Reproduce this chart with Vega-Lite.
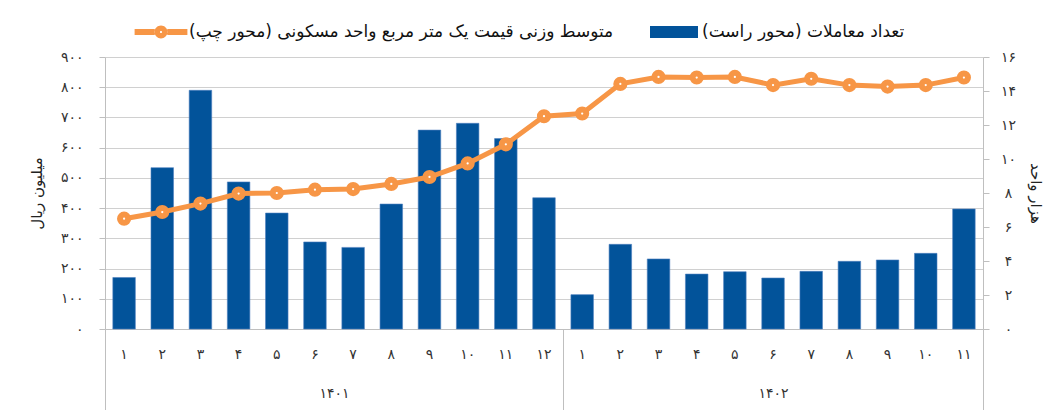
{
  "$schema": "https://vega.github.io/schema/vega-lite/v6.json",
  "width": 878,
  "height": 272,
  "autosize": "none",
  "padding": {"left": 105, "top": 57, "right": 65, "bottom": 81},
  "background": "white",
  "config": {
    "font": "DejaVu Sans",
    "view": {"stroke": null},
    "axis": {"labelColor": "#333333", "titleColor": "#222222", "titleFontWeight": "normal", "labelFont": "DejaVu Sans", "titleFont": "DejaVu Sans"},
    "legend": {"labelFontSize": 17, "labelColor": "#111111", "labelOffset": 4, "labelLimit": 700, "padding": 0, "symbolSize": 2304, "symbolStrokeWidth": 0}
  },
  "data": {
    "values": [
      {"period": "1401-01", "price": 365, "count": 3.03},
      {"period": "1401-02", "price": 387, "count": 9.49},
      {"period": "1401-03", "price": 415, "count": 14.04},
      {"period": "1401-04", "price": 448, "count": 8.65},
      {"period": "1401-05", "price": 450, "count": 6.82},
      {"period": "1401-06", "price": 461, "count": 5.12},
      {"period": "1401-07", "price": 463, "count": 4.8},
      {"period": "1401-08", "price": 480, "count": 7.35},
      {"period": "1401-09", "price": 503, "count": 11.7},
      {"period": "1401-10", "price": 548, "count": 12.1},
      {"period": "1401-11", "price": 611, "count": 11.2},
      {"period": "1401-12", "price": 704, "count": 7.72},
      {"period": "1402-01", "price": 713, "count": 2.02},
      {"period": "1402-02", "price": 811, "count": 4.98},
      {"period": "1402-03", "price": 834, "count": 4.12},
      {"period": "1402-04", "price": 832, "count": 3.23},
      {"period": "1402-05", "price": 834, "count": 3.37},
      {"period": "1402-06", "price": 807, "count": 3.0},
      {"period": "1402-07", "price": 828, "count": 3.39},
      {"period": "1402-08", "price": 807, "count": 3.98},
      {"period": "1402-09", "price": 802, "count": 4.06},
      {"period": "1402-10", "price": 807, "count": 4.45},
      {"period": "1402-11", "price": 832, "count": 7.06}
    ]
  },
  "layer": [
    {
      "encoding": {
        "x": {
          "field": "period",
          "type": "ordinal",
          "scale": {"type": "band", "paddingInner": 0.41, "paddingOuter": 0.205},
          "axis": {
            "orient": "bottom",
            "title": null,
            "ticks": false,
            "grid": false,
            "domainColor": "#bfbfbf",
            "domainWidth": 1,
            "labelAngle": 0,
            "labelPadding": 18,
            "labelFontSize": 14,
            "labelBaseline": "top",
            "labelExpr": "replace(replace(replace(replace(replace(replace(replace(replace(replace(replace(''+toNumber(substring(datum.value,5)),regexp('0','g'),'۰'),regexp('1','g'),'۱'),regexp('2','g'),'۲'),regexp('3','g'),'۳'),regexp('4','g'),'۴'),regexp('5','g'),'۵'),regexp('6','g'),'۶'),regexp('7','g'),'۷'),regexp('8','g'),'۸'),regexp('9','g'),'۹')"
          }
        }
      },
      "layer": [
        {
          "mark": {"type": "bar", "color": "#02539A", "stroke": "#4f7fbf", "strokeWidth": 0.6},
          "encoding": {
            "y": {
              "field": "count",
              "type": "quantitative",
              "scale": {"domain": [0, 16], "nice": false, "zero": true},
              "axis": {
                "orient": "right",
                "values": [0, 2, 4, 6, 8, 10, 12, 14, 16],
                "grid": false,
                "domainColor": "#bfbfbf",
                "tickColor": "#bfbfbf",
                "tickSize": 6,
                "labelAlign": "center",
                "labelPadding": 19,
                "labelFontSize": 14,
                "title": "هزار واحد",
                "titleFontSize": 15,
                "titlePadding": 12,
                "labelExpr": "replace(replace(replace(replace(replace(replace(replace(replace(replace(replace(datum.label,regexp('0','g'),'۰'),regexp('1','g'),'۱'),regexp('2','g'),'۲'),regexp('3','g'),'۳'),regexp('4','g'),'۴'),regexp('5','g'),'۵'),regexp('6','g'),'۶'),regexp('7','g'),'۷'),regexp('8','g'),'۸'),regexp('9','g'),'۹')"
              }
            },
            "color": {
              "datum": "تعداد معاملات (محور راست)",
              "type": "nominal",
              "scale": {"domain": ["تعداد معاملات (محور راست)"], "range": ["#02539A"]},
              "legend": {
                "title": null,
                "orient": "none",
                "direction": "horizontal",
                "legendX": 545,
                "legendY": -49,
                "symbolType": "M-1,-0.25H1V0.25H-1Z",
                "symbolSize": 2304,
                "symbolStrokeWidth": 0
              }
            }
          }
        },
        {
          "encoding": {
            "y": {
              "field": "price",
              "type": "quantitative",
              "scale": {"domain": [0, 900], "nice": false, "zero": true},
              "axis": {
                "orient": "left",
                "values": [0, 100, 200, 300, 400, 500, 600, 700, 800, 900],
                "grid": true,
                "gridColor": "#d0d0d0",
                "gridWidth": 1,
                "domainColor": "#bfbfbf",
                "tickColor": "#bfbfbf",
                "tickSize": 6,
                "labelPadding": 16,
                "labelFontSize": 14,
                "title": "میلیون ریال",
                "titleFontSize": 15,
                "titlePadding": 16,
                "labelExpr": "replace(replace(replace(replace(replace(replace(replace(replace(replace(replace(datum.label,regexp('0','g'),'۰'),regexp('1','g'),'۱'),regexp('2','g'),'۲'),regexp('3','g'),'۳'),regexp('4','g'),'۴'),regexp('5','g'),'۵'),regexp('6','g'),'۶'),regexp('7','g'),'۷'),regexp('8','g'),'۸'),regexp('9','g'),'۹')"
              }
            }
          },
          "layer": [
            {"mark": {"type": "line", "color": "#F79646", "strokeWidth": 5}},
            {
              "mark": {"type": "point", "filled": true, "size": 200, "opacity": 1},
              "encoding": {
                "color": {
                  "datum": "متوسط وزنی قیمت یک متر مربع واحد مسکونی (محور چپ)",
                  "type": "nominal",
                  "scale": {"domain": ["متوسط وزنی قیمت یک متر مربع واحد مسکونی (محور چپ)"], "range": ["#F79646"]},
                  "legend": {
                    "title": null,
                    "orient": "none",
                    "direction": "horizontal",
                    "legendX": 32,
                    "legendY": -49,
                    "symbolType": "M-1.1,-0.125H-0.26V0.125H-1.1Z M0.26,-0.125H1.1V0.125H0.26Z M-0.27,0A0.27,0.27 0 1 0 0.27,0A0.27,0.27 0 1 0 -0.27,0Z M-0.045,0A0.045,0.045 0 1 1 0.045,0A0.045,0.045 0 1 1 -0.045,0Z",
                    "symbolSize": 2304,
                    "symbolStrokeWidth": 0
                  }
                }
              }
            },
            {"mark": {"type": "point", "filled": true, "color": "#ffffff", "size": 5, "opacity": 1}}
          ]
        }
      ],
      "resolve": {"scale": {"y": "independent", "color": "independent"}}
    },
    {
      "data": {"values": [{"pos": 0}, {"pos": 6}, {"pos": 12}, {"pos": 17.5}, {"pos": 23}]},
      "mark": {"type": "rule", "opacity": 0},
      "encoding": {
        "x": {
          "field": "pos",
          "type": "quantitative",
          "scale": {"domain": [0, 23], "nice": false, "zero": false},
          "axis": {
            "orient": "bottom",
            "title": null,
            "grid": false,
            "domain": false,
            "values": [0, 6, 12, 17.5, 23],
            "tickSize": 81,
            "tickColor": "#bfbfbf",
            "tickWidth": 1,
            "tickOpacity": {"condition": {"test": "datum.value == 6 || datum.value == 17.5", "value": 0}, "value": 1},
            "labelExpr": "datum.value == 6 ? '۱۴۰۱' : (datum.value == 17.5 ? '۱۴۰۲' : '')",
            "labelPadding": -24,
            "labelBaseline": "top",
            "labelFontSize": 14,
            "labelFlush": false,
            "labelOverlap": false,
            "labelBound": false
          }
        }
      }
    }
  ],
  "resolve": {"scale": {"x": "independent", "y": "independent", "color": "independent"}}
}
